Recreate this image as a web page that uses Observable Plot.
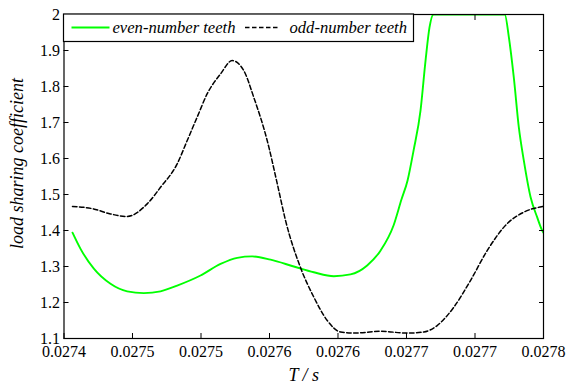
<!DOCTYPE html>
<html><head><meta charset="utf-8">
<script src="https://cdn.jsdelivr.net/npm/d3@7"></script>
<script src="https://cdn.jsdelivr.net/npm/@observablehq/plot@0.6"></script>
<style>
html,body{margin:0;padding:0;background:#fff}
svg{display:block}
</style>
</head><body><div id="chart"></div>
<script>
const seriesNames = ["even-number teeth", "odd-number teeth"];
const xLabel = "T / s";
const yLabel = "load sharing coefficient";

const evenT = [0.0274071,0.0274138,0.0274249,0.0274388,0.0274527,0.0274666,0.0274805,0.0274944,0.0275139,0.0275306,0.0275445,0.0275570,0.0275723,0.0275917,0.0276084,0.0276251,0.0276390,0.0276529,0.0276640,0.0276749,0.0276815,0.0276866,0.0276916,0.0276974,0.0277016,0.0277049,0.0277082,0.0277677,0.0277711,0.0277752,0.0277794,0.0277836,0.0277892,0.0277947,0.0277989,0.0278000];
const evenK = [1.394,1.349,1.294,1.252,1.231,1.226,1.231,1.247,1.275,1.307,1.324,1.328,1.319,1.300,1.284,1.273,1.278,1.303,1.344,1.414,1.486,1.539,1.622,1.733,1.872,1.964,2.0,2.0,1.937,1.826,1.687,1.594,1.493,1.437,1.400,1.394];

const oddT = [0.0274071,0.0274246,0.0274388,0.0274527,0.0274694,0.0274805,0.0274944,0.0275028,0.0275111,0.0275195,0.0275306,0.0275403,0.0275500,0.0275583,0.0275695,0.0275779,0.0275848,0.0275973,0.0276084,0.0276196,0.0276307,0.0276418,0.0276640,0.0276863,0.0277002,0.0277113,0.0277252,0.0277391,0.0277530,0.0277697,0.0277836,0.0278000];
const oddK = [1.467,1.460,1.446,1.439,1.474,1.520,1.585,1.650,1.715,1.780,1.835,1.872,1.844,1.770,1.650,1.530,1.428,1.297,1.215,1.150,1.118,1.115,1.120,1.115,1.118,1.136,1.187,1.261,1.344,1.419,1.451,1.467];

const xTicks = [0.0274,0.02745714,0.02751429,0.02757143,0.02762857,0.02768571,0.02774286,0.0278];
const xTickLabels = ["0.0274","0.0275","0.0275","0.0276","0.0276","0.0277","0.0277","0.0278"];
const yTicks = [1.1,1.2,1.3,1.4,1.5,1.6,1.7,1.8,1.9,2];
const yTickLabels = ["1.1","1.2","1.3","1.4","1.5","1.6","1.7","1.8","1.9","2"];

const even = evenT.map((t, i) => ({t, k: evenK[i]}));
const odd = oddT.map((t, i) => ({t, k: oddK[i]}));

const serif = "Liberation Serif";

const svg = Plot.plot({
  width: 566, height: 384,
  marginLeft: 63.5, marginRight: 23, marginTop: 14, marginBottom: 46,
  style: {fontFamily: serif, fontSize: "16px", color: "#000", background: "#fff"},
  x: {domain: [0.0274, 0.0278]},
  y: {domain: [1.1, 2]},
  marks: [
    Plot.line(even, {x: "t", y: "k", stroke: "#00ff00", strokeWidth: 1.9, curve: "monotone-x", clip: true}),
    Plot.line(odd, {x: "t", y: "k", stroke: "#000", strokeWidth: 1.5, strokeDasharray: "4.5,2.5", curve: "monotone-x", clip: true}),
    Plot.frame({stroke: "#000", strokeWidth: 1.2}),
    Plot.axisX(xTicks, {anchor: "bottom", tickSize: -5, tickPadding: 12.5, label: null, fontSize: 16,
      tickFormat: d => xTickLabels[xTicks.indexOf(d)]}),
    Plot.axisX(xTicks, {anchor: "top", tickSize: -5, fill: "none", label: null}),
    Plot.axisY(yTicks, {anchor: "left", tickSize: -5, tickPadding: 9, label: null, fontSize: 16,
      tickFormat: d => yTickLabels[yTicks.indexOf(d)]}),
    Plot.axisY(yTicks, {anchor: "right", tickSize: -5, fill: "none", label: null}),
    Plot.text([xLabel], {text: d => d, frameAnchor: "bottom", dy: 37, fontStyle: "italic", fontSize: 18, lineAnchor: "middle", textAnchor: "middle"}),
    Plot.text([yLabel], {text: d => d, frameAnchor: "left", dx: -46.3, dy: -13, rotate: -90, fontStyle: "italic", fontSize: 18, lineAnchor: "middle", textAnchor: "middle"})
  ]
});

// legend box (MATLAB style, top-left inside axes)
const lg = d3.select(svg).append("g").attr("class", "legend").attr("text-anchor", "start");
lg.append("rect").attr("x", 63.5).attr("y", 14).attr("width", 350).attr("height", 27.5)
  .attr("fill", "#fff").attr("stroke", "#000").attr("stroke-width", 1.2);
const items = [
  {name: seriesNames[0], stroke: "#00ff00", dash: "none", x0: 71.5, x1: 109.5, tx: 112.5, w: 1.9},
  {name: seriesNames[1], stroke: "#000000", dash: "4.5,2.5", x0: 245, x1: 280, tx: 289.5, w: 1.5}
];
for (const it of items) {
  lg.append("path").attr("d", `M${it.x0},27.5H${it.x1}`).attr("fill", "none")
    .attr("stroke", it.stroke).attr("stroke-width", it.w).attr("stroke-dasharray", it.dash);
  lg.append("text").attr("x", it.tx).attr("y", 33.3).attr("font-size", 16.6).attr("font-family", serif)
    .attr("font-style", "italic").attr("fill", "#000").attr("text-anchor", "start").text(it.name);
}

document.getElementById("chart").appendChild(svg);
</script>
</body></html>
